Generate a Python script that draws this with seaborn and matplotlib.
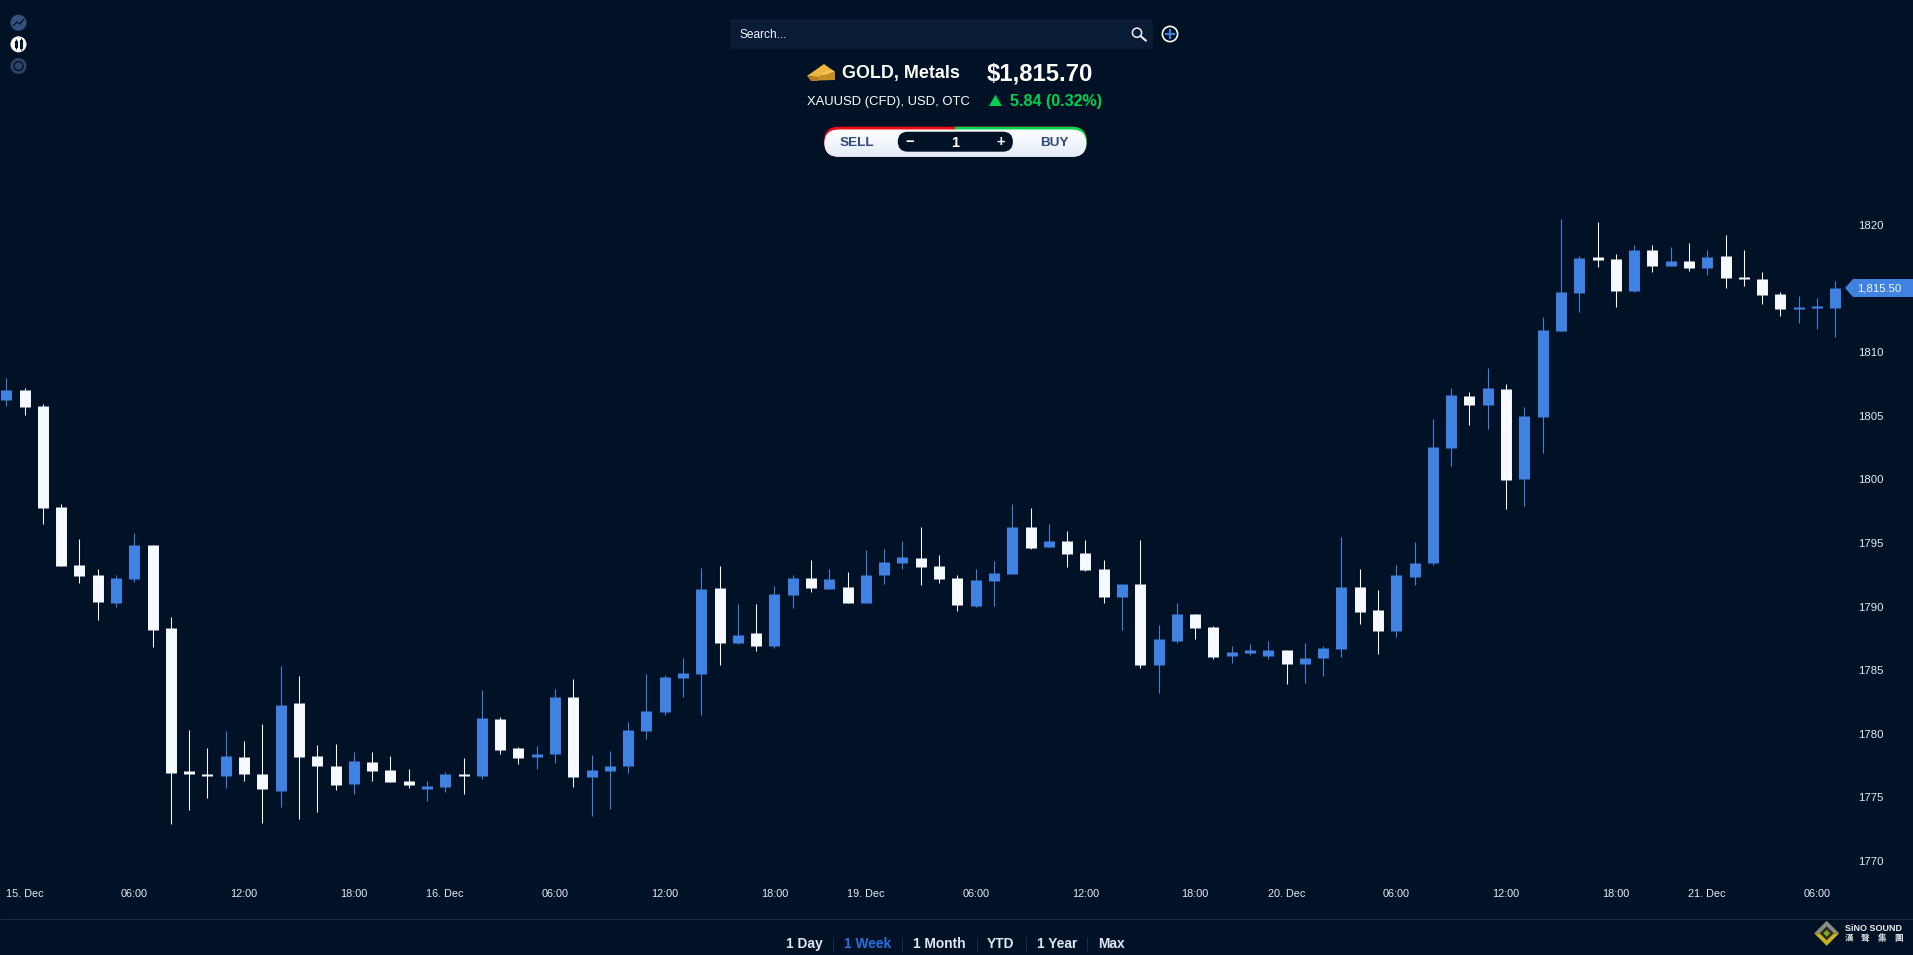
import numpy as np
import pandas as pd
import matplotlib
matplotlib.use("Agg")
import matplotlib.pyplot as plt
import seaborn as sns
from matplotlib.colors import LinearSegmentedColormap
from matplotlib.patches import Circle, FancyBboxPatch, Polygon, Rectangle

# hourly XAUUSD candles
opens = [1806.24, 1807.03, 1805.77, 1797.83, 1793.27, 1792.49, 1790.28, 1792.17, 1794.84, 1788.32,
         1777.08, 1776.84, 1776.68, 1778.18, 1776.84, 1775.50, 1782.42, 1778.26, 1777.47, 1776.05,
         1777.78, 1777.15, 1776.29, 1775.66, 1775.82, 1776.84, 1776.68, 1781.16, 1778.88, 1778.18,
         1778.41, 1782.89, 1776.60, 1777.08, 1777.47, 1780.22, 1781.71, 1784.39, 1784.70, 1791.46,
         1787.14, 1787.92, 1786.90, 1790.91, 1792.25, 1791.38, 1791.54, 1790.28, 1792.48, 1793.43,
         1793.82, 1793.19, 1792.25, 1790.05, 1792.01, 1792.56, 1796.26, 1794.69, 1795.16, 1794.21,
         1792.96, 1790.76, 1791.78, 1785.41, 1787.30, 1789.42, 1788.40, 1786.12, 1786.35, 1786.12,
         1786.59, 1785.49, 1785.96, 1786.67, 1791.54, 1789.73, 1788.08, 1792.33, 1793.43, 1802.47,
         1806.56, 1805.85, 1807.11, 1800.03, 1804.91, 1811.67, 1814.65, 1817.48, 1817.33, 1814.81,
         1818.03, 1816.78, 1817.17, 1816.62, 1817.56, 1815.91, 1815.75, 1814.58, 1813.40, 1813.48,
         1813.48]
highs = [1807.97, 1807.19, 1805.93, 1798.07, 1795.32, 1792.96, 1792.49, 1795.79, 1794.84, 1789.18,
         1780.30, 1778.88, 1780.22, 1779.44, 1780.77, 1785.33, 1784.55, 1779.12, 1779.20, 1778.57,
         1778.57, 1778.26, 1777.23, 1776.29, 1777.00, 1778.10, 1783.44, 1781.32, 1778.96, 1779.04,
         1783.52, 1784.31, 1778.33, 1778.65, 1780.93, 1784.70, 1784.62, 1785.96, 1793.03, 1793.19,
         1790.20, 1790.20, 1791.62, 1792.48, 1793.66, 1792.96, 1792.72, 1794.45, 1794.53, 1795.16,
         1796.26, 1794.06, 1792.48, 1792.96, 1793.59, 1798.07, 1797.75, 1796.49, 1795.94, 1795.24,
         1793.66, 1791.78, 1795.24, 1788.55, 1790.28, 1789.42, 1788.48, 1786.90, 1787.06, 1787.30,
         1786.59, 1787.14, 1786.90, 1795.47, 1792.96, 1791.31, 1793.27, 1795.08, 1804.75, 1807.19,
         1806.87, 1808.76, 1807.50, 1805.69, 1812.77, 1820.47, 1817.56, 1820.24, 1817.72, 1818.43,
         1818.43, 1818.27, 1818.58, 1818.03, 1819.21, 1818.03, 1816.31, 1814.73, 1814.42, 1814.26,
         1815.60]
lows = [1805.77, 1805.06, 1796.49, 1793.19, 1791.86, 1788.95, 1789.97, 1791.94, 1786.82, 1772.91,
        1774.01, 1774.95, 1775.74, 1776.29, 1772.99, 1774.25, 1773.30, 1773.85, 1775.58, 1775.27,
        1776.29, 1776.21, 1775.74, 1774.72, 1775.43, 1775.27, 1776.45, 1778.41, 1777.63, 1777.23,
        1777.71, 1775.82, 1773.54, 1774.09, 1776.92, 1779.59, 1781.48, 1782.89, 1781.48, 1785.41,
        1787.06, 1786.51, 1786.75, 1789.89, 1791.15, 1791.38, 1790.28, 1790.28, 1791.78, 1792.96,
        1791.70, 1791.86, 1789.65, 1789.97, 1790.05, 1792.56, 1794.53, 1794.69, 1793.11, 1792.80,
        1790.28, 1788.16, 1785.17, 1783.21, 1787.14, 1787.45, 1785.88, 1785.57, 1786.20, 1785.88,
        1783.92, 1783.99, 1784.54, 1786.04, 1788.63, 1786.27, 1787.61, 1791.70, 1793.27, 1801.05,
        1804.28, 1803.96, 1797.67, 1797.91, 1802.08, 1811.67, 1813.16, 1816.70, 1813.55, 1814.73,
        1816.31, 1816.78, 1816.38, 1816.07, 1815.05, 1815.20, 1813.79, 1812.85, 1812.30, 1811.82,
        1811.20]
closes = [1807.03, 1805.69, 1797.75, 1793.19, 1792.41, 1790.36, 1792.25, 1794.84, 1788.16, 1776.92,
          1776.84, 1776.68, 1778.26, 1776.84, 1775.66, 1782.27, 1778.18, 1777.47, 1775.98, 1777.86,
          1777.08, 1776.21, 1775.98, 1775.90, 1776.84, 1776.68, 1781.24, 1778.73, 1778.10, 1778.41,
          1782.89, 1776.60, 1777.15, 1777.47, 1780.30, 1781.79, 1784.47, 1784.78, 1791.38, 1787.14,
          1787.77, 1786.90, 1790.99, 1792.25, 1791.46, 1792.17, 1790.28, 1792.48, 1793.51, 1793.90,
          1793.11, 1792.17, 1790.13, 1792.09, 1792.64, 1796.26, 1794.61, 1795.16, 1794.14, 1792.88,
          1790.76, 1791.78, 1785.41, 1787.45, 1789.42, 1788.32, 1786.04, 1786.43, 1786.59, 1786.59,
          1785.49, 1785.96, 1786.75, 1791.54, 1789.58, 1788.08, 1792.48, 1793.43, 1802.55, 1806.64,
          1805.85, 1807.19, 1799.95, 1804.98, 1811.75, 1814.73, 1817.41, 1817.25, 1814.81, 1818.03,
          1816.78, 1817.17, 1816.62, 1817.48, 1815.83, 1815.75, 1814.50, 1813.40, 1813.55, 1813.63,
          1815.05]

y_ticks = [1770, 1775, 1780, 1785, 1790, 1795, 1800, 1805, 1810, 1820]
x_tick_pos = [1, 7, 13, 19, 24, 30, 36, 42, 47, 53, 59, 65, 70, 76, 82, 88, 93, 99]
x_tick_labels = ["15. Dec", "06:00", "12:00", "18:00", "16. Dec", "06:00", "12:00", "18:00",
                 "19. Dec", "06:00", "12:00", "18:00", "20. Dec", "06:00", "12:00", "18:00",
                 "21. Dec", "06:00"]
ranges = ["1 Day", "1 Week", "1 Month", "YTD", "1 Year", "Max"]

BG = "#011227"
BLUE = "#3f82e2"
WHITE = "#f6f9ff"
PANEL = "#0a1b36"
RULE = "#1a2c4a"
W, H = 1913, 955

sns.set_theme(style="dark", rc={"axes.facecolor": BG, "figure.facecolor": BG,
                                "lines.solid_capstyle": "butt"})
plt.rcParams["font.family"] = ["Liberation Sans", "Noto Sans CJK TC", "DejaVu Sans"]

candles = pd.DataFrame({"candle": range(len(opens)), "open": opens, "high": highs,
                        "low": lows, "close": closes})
candles["direction"] = np.where(candles["close"] >= candles["open"], "up", "down")
palette = {"up": BLUE, "down": WHITE}

# one row per end of a wick / a body, lineplot joins them per candle
wicks = candles.melt(id_vars=["candle", "direction"], value_vars=["low", "high"], value_name="price")
bodies = candles.melt(id_vars=["candle", "direction"], value_vars=["open", "close"], value_name="price")

fig = plt.figure(figsize=(W / 100, H / 100), dpi=100)
ax = fig.add_axes([0, 0, 1, 1])
sns.lineplot(data=wicks, x="candle", y="price", units="candle", estimator=None, hue="direction",
             palette=palette, linewidth=0.75, legend=False, sort=False, ax=ax)
sns.lineplot(data=bodies, x="candle", y="price", units="candle", estimator=None, hue="direction",
             palette=palette, linewidth=7.9, legend=False, sort=False, ax=ax)

ax.set_xlim(-0.344, 104.25)
ax.set_ylim(1762.61, 1837.69)
ax.set_xlabel("")
ax.set_ylabel("")
ax.grid(False)
sns.despine(ax=ax, left=True, bottom=True)
ax.yaxis.tick_right()
ax.set_yticks(y_ticks)
ax.set_xticks(x_tick_pos)
ax.set_xticklabels(x_tick_labels)
ax.tick_params(axis="y", length=0, pad=-39.8, labelsize=8.2, labelcolor="#e4ecfa")
ax.tick_params(axis="x", length=0, pad=-47.5, labelsize=7.8, labelcolor="#e4ecfa")

# page furniture around the chart, in pixel coordinates
ui = fig.add_axes([0, 0, 1, 1], facecolor="none")
ui.set_xlim(0, W)
ui.set_ylim(H, 0)
ui.autoscale(False)
ui.axis("off")


def pill(x0, y0, x1, y1, r, color, z=2):
    patch = FancyBboxPatch((x0 + r, y0 + r), x1 - x0 - 2 * r, y1 - y0 - 2 * r,
                           boxstyle="round,pad=%f,rounding_size=%f" % (r, r),
                           fc=color, ec="none", zorder=z)
    ui.add_patch(patch)
    return patch


def label(x, y, s, size, color="white", weight="normal", ha="left", **kw):
    ui.text(x, y, s, fontsize=size, color=color, weight=weight, ha=ha, va="center", **kw)


# left rail icons
ui.add_patch(Circle((18.5, 22.7), 8, fc="#34527e", ec="none"))
ui.plot([13, 17, 20, 24], [26, 22, 24, 19], color=BG, lw=0.9)
ui.add_patch(Circle((18.5, 44.3), 8, fc="white", ec="none"))
ui.add_patch(Rectangle((14.5, 41.5), 2.2, 5.5, fc="white", ec=BG, lw=0.8))
ui.add_patch(Rectangle((20, 40), 2.2, 8, fc="white", ec=BG, lw=0.8))
ui.plot([15.6, 15.6], [39.5, 49], color=BG, lw=0.7)
ui.plot([21.1, 21.1], [38, 50], color=BG, lw=0.7)
ui.add_patch(Circle((18.5, 66), 8, fc="#2b4467", ec="none"))
ui.add_patch(Circle((18.5, 66), 4.5, fc="none", ec=BG, lw=1))

# search bar
pill(730, 19, 1153, 49, 3, PANEL)
label(740, 34.5, "Search...", 8.6, color="#f2f6ff")
ui.add_patch(Circle((1137, 32.7), 4.6, fc="none", ec="#e8eef8", lw=1.1, zorder=3))
ui.plot([1140.5, 1146], [36, 40.7], color="#e8eef8", lw=1.5, solid_capstyle="round", zorder=3)
ui.add_patch(Circle((1170, 34), 7.6, fc="none", ec="white", lw=1.2))
ui.plot([1165.2, 1174.8], [34, 34], color=BLUE, lw=1.5)
ui.plot([1170, 1170], [29.2, 38.8], color=BLUE, lw=1.5)

# gold bars
ui.add_patch(Polygon([[818, 73], [835, 71.5], [835, 80], [818, 80.5]], fc="#c98d28", ec="none"))
ui.add_patch(Polygon([[807, 76], [818, 77], [818, 81], [811, 81]], fc="#b97d20", ec="none"))
ui.add_patch(Polygon([[807, 76], [824, 64], [831, 69], [818, 77]], fc="#eeb53e", ec="none"))
ui.add_patch(Polygon([[820, 74], [831, 69], [835, 71.5], [824, 75]], fc="#f2c65a", ec="none"))

label(841.7, 73.5, "GOLD, Metals", 12.9, weight="bold")
label(986.4, 74, "$1,815.70", 17.2, weight="bold")
label(807, 101.5, "XAUUSD (CFD), USD, OTC", 9.36)
ui.add_patch(Polygon([[989, 106], [1002, 106], [995.5, 94.7]], fc="#00d04f", ec="none"))
label(1009.7, 101.5, "5.84 (0.32%)", 11.6, color="#00d04f", weight="bold")

# sell / buy control
red = pill(823.9, 126.7, 1086.8, 156.7, 15, "#f00b16")
green = pill(823.9, 126.7, 1086.8, 156.7, 15, "#05d44e", z=2.1)
green.set_clip_path(Rectangle((955.3, 120), 140, 45, transform=ui.transData))
face = pill(824.5, 129.7, 1086.2, 156.7, 14, "#f5f8fe", z=2.2)
shade = LinearSegmentedColormap.from_list("shade", ["#ffffff", "#e4ebf8"])
grad = ui.imshow(np.linspace(0, 1, 30)[:, None], extent=(824, 1087, 157, 129), cmap=shade,
                 aspect="auto", zorder=2.25)
grad.set_clip_path(face)
pill(897.8, 131.7, 1012.9, 151.7, 10, BG, z=2.3)
label(856.7, 143, "SELL", 9.7, color="#2f4a7c", weight="bold", ha="center", zorder=3)
label(1054, 143, "BUY", 9.7, color="#2f4a7c", weight="bold", ha="center", zorder=3)
label(910, 142, "\u2212", 10.5, weight="bold", ha="center", zorder=3)
label(955.5, 143, "1", 10.5, weight="bold", ha="center", zorder=3)
label(1000.6, 142, "+", 10.5, weight="bold", ha="center", zorder=3)

# last price tag
ui.add_patch(Polygon([[1845, 288], [1853, 279], [1913, 279], [1913, 297], [1853, 297]], fc=BLUE, ec="none"))
label(1856.7, 288.3, "1,815.50", 8.2, color="#f4f7ff", zorder=3)

# range selector
ui.plot([0, W], [919.3, 919.3], color=RULE, lw=0.75)
range_x = [785.7, 843.7, 913, 987, 1036.7, 1098]
for s, x in zip(ranges, range_x):
    label(x, 944, s, 9.9, color="#2a6fdb" if s == "1 Week" else "#dde7f6", weight="bold")
for x in [832.5, 901.5, 976.5, 1025.5, 1087]:
    ui.plot([x, x], [937, 951], color=RULE, lw=0.75)

# logo
cx, cy = 1826.7, 933.3
ui.add_patch(Polygon([[cx - 12.5, cy], [cx, cy - 12.5], [cx + 12.5, cy]], fc="#8c8c86", ec="none"))
ui.add_patch(Polygon([[cx - 12.5, cy], [cx, cy + 12.5], [cx + 12.5, cy]], fc="#c9b21f", ec="none"))
ui.add_patch(Polygon([[cx - 7, cy], [cx, cy - 7], [cx + 7, cy], [cx, cy + 7]], fc="#2b2a1c", ec="none"))
ui.add_patch(Polygon([[cx - 3.5, cy], [cx, cy - 3.5], [cx + 3.5, cy], [cx, cy + 3.5]], fc="#7fa52a", ec="none"))
label(1845, 928, "SiNO SOUND", 6.5, color="#eeeeee", weight="bold")
for ch, x in zip("漢聲集團", [1849, 1865, 1881.7, 1898.5]):
    label(x, 938, ch, 6.2, color="#dddddd", ha="center", weight="bold",
          family=["Noto Sans CJK TC", "DejaVu Sans"])

fig.savefig("out.png", dpi=100, facecolor=BG)
